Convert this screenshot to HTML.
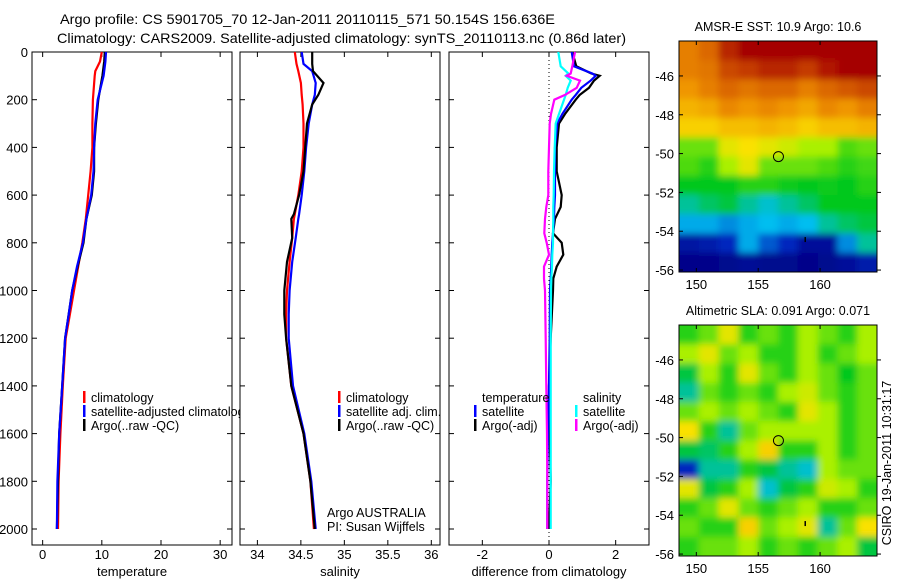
<!DOCTYPE html>
<html><head><meta charset="utf-8">
<style>
body{margin:0;background:#fff;}
svg{display:block;font-family:"Liberation Sans",sans-serif;}
text{fill:#000;}
</style></head>
<body>
<svg id="chart" width="900" height="580" viewBox="0 0 900 580" xmlns="http://www.w3.org/2000/svg">
<defs>
<filter id="blur" x="-5%" y="-5%" width="110%" height="110%"><feGaussianBlur stdDeviation="3.5"/></filter>
<clipPath id="clipA"><rect x="679" y="41" width="198" height="231"/></clipPath>
<clipPath id="clipB"><rect x="679" y="325" width="198" height="231"/></clipPath>
</defs>
<text x="60" y="24" font-size="14" textLength="495" lengthAdjust="spacingAndGlyphs">Argo profile: CS 5901705_70 12-Jan-2011 20110115_571 50.154S 156.636E</text>
<text x="57" y="43" font-size="14" textLength="569" lengthAdjust="spacingAndGlyphs">Climatology: CARS2009. Satellite-adjusted climatology: synTS_20110113.nc (0.86d later)</text>
<g id="g"></g>
</svg>
<script>
// ---- profile data ----
const depthTicks = [0,200,400,600,800,1000,1200,1400,1600,1800,2000];
const tempTicks = [0,10,20,30];
const salTicks = [34,34.5,35,35.5,36];
const salTickLabels = ["34","34.5","35","35.5","36"];
const diffTicks = [-2,0,2];
const tempDepth = [0,40,80,100,200,300,400,500,600,700,800,900,1000,1100,1200,1400,1600,1800,2000];
const tempClim = [10.0,9.7,8.9,8.8,8.5,8.4,8.4,8.1,7.7,7.3,6.7,6.0,5.3,4.6,3.9,3.4,3.0,2.7,2.6];
const tempSat = [10.7,10.6,10.4,10.3,9.3,8.9,8.7,8.6,8.2,7.4,6.8,5.8,5.0,4.4,3.8,3.3,2.8,2.5,2.4];
const tempArgo = [10.5,10.4,10.2,10.1,9.4,9.0,8.7,8.7,8.3,7.4,6.9,5.9,5.0,4.4,3.8,3.3,2.8,2.6,2.4];
const salDepth = [0,50,80,130,180,220,300,400,500,600,680,700,780,880,1000,1100,1200,1400,1600,1800,2000];
const salClim = [34.43,34.45,34.47,34.50,34.51,34.52,34.53,34.53,34.51,34.47,34.43,34.42,34.40,34.37,34.34,34.33,34.33,34.39,34.53,34.61,34.65];
const salSat = [34.51,34.53,34.63,34.67,34.66,34.63,34.59,34.56,34.54,34.51,34.48,34.47,34.44,34.40,34.37,34.36,34.36,34.41,34.54,34.62,34.67];
const salArgo = [34.63,34.63,34.64,34.76,34.70,34.63,34.57,34.55,34.53,34.48,34.42,34.39,34.40,34.34,34.31,34.31,34.33,34.39,34.53,34.61,34.66];
const diffDepth = [0,60,90,100,120,150,180,200,260,300,400,500,600,650,700,760,800,850,900,950,1000,1200,1400,1600,1800,2000];
const dTempSat = [0.68,0.75,1.3,1.4,1.25,0.97,0.8,0.68,0.4,0.25,0.18,0.18,0.18,0.16,0.15,0.12,0.1,0.08,0.07,0.05,0.03,0.02,0.0,-0.03,-0.05,-0.05];
const dTempArgo = [0.7,0.82,1.27,1.52,1.35,1.2,0.92,0.8,0.48,0.3,0.23,0.23,0.38,0.35,0.18,0.12,0.38,0.43,0.23,0.13,0.12,0.05,0.0,0.02,0.05,0.0];
const dSalSat = [0.28,0.35,0.58,0.5,0.65,0.56,0.5,0.45,0.3,0.2,0.17,0.15,0.14,0.13,0.13,0.12,0.12,0.1,0.09,0.07,0.06,0.05,0.05,0.05,0.05,0.05];
const dSalArgo = [0.78,0.7,0.65,0.53,0.93,0.83,0.48,0.16,0.06,0.02,0.0,-0.02,-0.02,-0.08,-0.12,-0.14,-0.07,0.0,-0.15,-0.15,-0.12,-0.1,-0.08,-0.06,-0.05,-0.05];
// ---- map data (colormap index 0..1), rows north->south ----
const lonTicks = [150,155,160];
const latTicks = [-46,-48,-50,-52,-54,-56];
const sstGrid = [
[0.8,0.85,0.95,1,1,1,1,1,1,1],
[0.8,0.82,0.9,0.92,0.95,0.95,0.92,0.97,1,1],
[0.75,0.8,0.85,0.82,0.85,0.85,0.8,0.85,0.88,0.9],
[0.7,0.72,0.78,0.75,0.78,0.75,0.72,0.78,0.75,0.8],
[0.65,0.65,0.68,0.68,0.7,0.68,0.65,0.68,0.68,0.7],
[0.5,0.5,0.6,0.62,0.6,0.58,0.55,0.55,0.48,0.5],
[0.48,0.45,0.55,0.6,0.5,0.5,0.5,0.48,0.45,0.47],
[0.42,0.42,0.42,0.45,0.45,0.43,0.42,0.43,0.42,0.45],
[0.35,0.38,0.4,0.35,0.32,0.35,0.38,0.42,0.42,0.42],
[0.28,0.28,0.25,0.28,0.3,0.28,0.3,0.35,0.38,0.4],
[0.08,0.1,0.15,0.28,0.2,0.15,0.06,0.06,0.25,0.35],
[0.02,0.02,0.03,0.05,0.03,0.03,0.02,0.03,0.06,0.1]];
const slaGrid = [
[0.45,0.5,0.6,0.45,0.5,0.45,0.55,0.5,0.45,0.55],
[0.55,0.6,0.5,0.55,0.45,0.45,0.55,0.45,0.5,0.55],
[0.4,0.55,0.45,0.6,0.5,0.45,0.55,0.5,0.42,0.5],
[0.35,0.5,0.45,0.5,0.45,0.55,0.58,0.5,0.45,0.5],
[0.5,0.55,0.5,0.55,0.5,0.45,0.6,0.55,0.45,0.5],
[0.62,0.45,0.35,0.5,0.55,0.55,0.55,0.55,0.45,0.5],
[0.4,0.38,0.45,0.55,0.65,0.45,0.45,0.55,0.45,0.5],
[0.15,0.35,0.35,0.45,0.4,0.35,0.32,0.55,0.5,0.5],
[0.6,0.4,0.45,0.55,0.32,0.4,0.45,0.58,0.55,0.45],
[0.45,0.5,0.6,0.5,0.45,0.5,0.55,0.45,0.45,0.5],
[0.5,0.45,0.45,0.65,0.5,0.55,0.6,0.35,0.5,0.62],
[0.45,0.5,0.5,0.55,0.45,0.5,0.45,0.5,0.55,0.4]];
const floatLon = 156.636, floatLat = -50.154;

const NS="http://www.w3.org/2000/svg";
const G=document.getElementById('g');
function mk(tag,attrs,parent){const e=document.createElementNS(NS,tag);for(const k in attrs)e.setAttribute(k,attrs[k]);(parent||G).appendChild(e);return e;}
function txt(x,y,s,size,anchor,parent){const t=mk('text',{x:x,y:y,'font-size':size||12,'text-anchor':anchor||'start'},parent);t.textContent=s;return t;}

const Y0=52, Y1=545, yD=d=>52+d*0.2385;
function panel(name,left,right,xmin,xmax,xt,xtl,xlabel,showY){
  const xs=v=>left+(v-xmin)/(xmax-xmin)*(right-left);
  const g=mk('g',{});
  
  
  const r=mk('rect',{x:left,y:Y0,width:right-left,height:Y1-Y0,fill:'#fff',stroke:'#000','stroke-width':1},g);
  
  
  depthTicks.forEach(d=>{
    mk('line',{x1:left,x2:left+5,y1:yD(d),y2:yD(d),stroke:'#000'},g);
    mk('line',{x1:right,x2:right-5,y1:yD(d),y2:yD(d),stroke:'#000'},g);
    if(showY){const t=txt(left-4,yD(d)+5,String(d),13,'end',g);
      
      }
  });
  xt.forEach((v,i)=>{
    mk('line',{x1:xs(v),x2:xs(v),y1:Y1,y2:Y1-5,stroke:'#000'},g);
    mk('line',{x1:xs(v),x2:xs(v),y1:Y0,y2:Y0+5,stroke:'#000'},g);
    const t=txt(xs(v),Y1+14,xtl[i],13,'middle',g);
    
    
  });
  const xl=txt((left+right)/2,576,xlabel,13,'middle',g);
  
  
  return {xs,g};
}
function series(p,depths,vals,color,name){
  const pts=depths.map((d,i)=>p.xs(vals[i]).toFixed(1)+','+yD(d).toFixed(1)).join(' ');
  const l=mk('polyline',{points:pts,fill:'none',stroke:color,'stroke-width':2.2},p.g);
  
  
}
function legend(p,x,y,color,label,name){
  const b=mk('rect',{x:x,y:y-11,width:2.5,height:12,fill:color},p.g);
  
  
  const t=txt(x+8,y,label,12.5,'start',p.g);
  
  
}

// temperature
const p1=panel('temperature-panel',32,232,-1.8,32,tempTicks,tempTicks.map(String),'temperature',true);
series(p1,tempDepth,tempClim,'#f00','temp-climatology-line');
series(p1,tempDepth,tempArgo,'#000','temp-argo-line');
series(p1,tempDepth,tempSat,'#00f','temp-satellite-line');
legend(p1,83,402,'#f00','climatology','legend-climatology');
legend(p1,83,416,'#00f','satellite-adjusted climatology','legend-satellite-adjusted');
legend(p1,83,430,'#000','Argo(..raw -QC)','legend-argo');

// salinity
const p2=panel('salinity-panel',240,440,33.8,36.1,salTicks,salTickLabels,'salinity',false);
series(p2,salDepth,salClim,'#f00','sal-climatology-line');
series(p2,salDepth,salSat,'#00f','sal-satellite-line');
series(p2,salDepth,salArgo,'#000','sal-argo-line');
legend(p2,338,402,'#f00','climatology','legend-sal-climatology');
legend(p2,338,416,'#00f','satellite adj. clim.','legend-sal-satellite');
legend(p2,338,430,'#000','Argo(..raw -QC)','legend-sal-argo');
const a1=txt(327,517,'Argo AUSTRALIA',12.5,'start',p2.g);


const a2=txt(327,531,'PI: Susan Wijffels',12.5,'start',p2.g);



// difference
const p3=panel('difference-panel',449,649,-3,3,diffTicks,diffTicks.map(String),'difference from climatology',false);
mk('line',{x1:p3.xs(0),x2:p3.xs(0),y1:Y0,y2:Y1,stroke:'#000','stroke-dasharray':'1,3'},p3.g);
series(p3,diffDepth,dTempArgo,'#000','diff-temp-argo-line');
series(p3,diffDepth,dTempSat,'#00f','diff-temp-satellite-line');
series(p3,diffDepth,dSalSat,'#0ff','diff-sal-satellite-line');
series(p3,diffDepth,dSalArgo,'#f0f','diff-sal-argo-line');
const h1=txt(482,402,'temperature',12.5,'start',p3.g);


const h2=txt(583,402,'salinity',12.5,'start',p3.g);


legend(p3,474,416,'#00f','satellite','legend-diff-temp-satellite');
legend(p3,474,430,'#000','Argo(-adj)','legend-diff-temp-argo');
legend(p3,575,416,'#0ff','satellite','legend-diff-sal-satellite');
legend(p3,575,430,'#f0f','Argo(-adj)','legend-diff-sal-argo');

// maps
const cmapStops=[[0,0,0,130],[0.15,0,40,190],[0.3,0,190,240],[0.42,0,200,30],[0.55,170,240,0],[0.62,250,225,0],[0.75,240,150,0],[0.87,215,95,0],[1,165,0,0]];
function cmap(v){
  v=Math.max(0,Math.min(1,v));
  for(let i=1;i<cmapStops.length;i++){
    const a=cmapStops[i-1],b=cmapStops[i];
    if(v<=b[0]){const t=(v-a[0])/(b[0]-a[0]);
      return 'rgb('+[1,2,3].map(k=>Math.round(a[k]+t*(b[k]-a[k]))).join(',')+')';}
  }
  return 'rgb(165,0,0)';
}
function map(name,top,bottom,grid,title,clip){
  const left=679,right=877,lon0=148.6,lon1=164.6,lat0=-44.2,lat1=-56.1;
  const xs=v=>left+(v-lon0)/(lon1-lon0)*(right-left);
  const ys=v=>top+(v-lat0)/(lat1-lat0)*(bottom-top);
  const g=mk('g',{});
  
  
  const cg=mk('g',{'clip-path':'url(#'+clip+')'},g);
  const bg=mk('g',{filter:'url(#blur)'},cg);
  const nr=grid.length,nc=grid[0].length,cw=(right-left)/nc,ch=(bottom-top)/nr;
  grid.forEach((row,i)=>row.forEach((v,j)=>{
    let x=left+j*cw,y=top+i*ch,w=cw+0.6,h=ch+0.6;
    if(j==0){x-=8;w+=8;} if(j==nc-1){w+=8;}
    if(i==0){y-=8;h+=8;} if(i==nr-1){h+=8;}
    const c=mk('rect',{x:x,y:y,width:w,height:h,fill:cmap(v)},bg);
    
    
  }));
  mk('rect',{x:left,y:top,width:right-left,height:bottom-top,fill:'none',stroke:'#000'},g);
  lonTicks.forEach(v=>{
    mk('line',{x1:xs(v),x2:xs(v),y1:top,y2:top+4,stroke:'#000'},g);
    mk('line',{x1:xs(v),x2:xs(v),y1:bottom,y2:bottom-4,stroke:'#000'},g);
    const t=txt(xs(v),bottom+17,String(v),13,'middle',g);
    
    
  });
  latTicks.forEach(v=>{
    mk('line',{x1:left,x2:left+4,y1:ys(v),y2:ys(v),stroke:'#000'},g);
    mk('line',{x1:right,x2:right+4,y1:ys(v),y2:ys(v),stroke:'#000'},g);
    const t=txt(left-5,ys(v)+5,String(v),13,'end',g);
    
    
  });
  const m=mk('circle',{cx:xs(floatLon),cy:ys(floatLat),r:5,fill:'none',stroke:'#000'},g);
  
  
  mk('path',{d:'M'+xs(158.8)+' '+ys(-54.3)+' l0 5',stroke:'#000','stroke-width':1.5},g);
  const tt=txt((left+right)/2,top-10,title,12.5,'middle',g);
  
  
}
map('sst-map',41,272,sstGrid,'AMSR-E SST: 10.9 Argo: 10.6','clipA');
map('sla-map',325,556,slaGrid,'Altimetric SLA: 0.091 Argo: 0.071','clipB');
const cs=txt(0,0,'CSIRO 19-Jan-2011 10:31:17',12.5,'middle');
cs.setAttribute('transform','translate(891,463) rotate(-90)');


</script>
</body></html>
